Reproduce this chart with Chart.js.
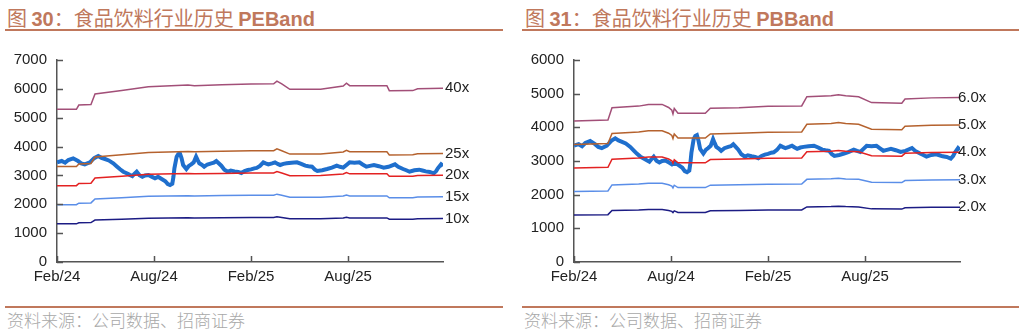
<!DOCTYPE html>
<html>
<head>
<meta charset="utf-8">
<script src="https://cdn.jsdelivr.net/npm/chart.js@4.4.1/dist/chart.umd.min.js"></script>
<style>
  body { margin: 0; background: #fff; width: 1025px; height: 332px; position: relative; overflow: hidden; }
  .title { position: absolute; top: 3px; font-family: "Noto Sans CJK SC", sans-serif; font-size: 20px; color: #C0785C; white-space: nowrap; }
  .title b { font-family: "Liberation Sans", Arial, sans-serif; font-weight: bold; }
  .rule { position: absolute; height: 2px; background: #C0785C; }
  .source { position: absolute; top: 307px; font-family: "Noto Sans CJK SC", serif; font-size: 17px; color: #A8A8A8; white-space: nowrap; font-weight: 300; }
  canvas { position: absolute; top: 0; }
</style>
</head>
<body>
<div class="title" style="left:7px">图 <b>30</b>：食品饮料行业历史 <b>PEBand</b></div>
<div class="rule" style="left:5px; width:498px; top:29px"></div>
<canvas id="pe-chart" width="512" height="300" style="left:0"></canvas>
<div class="rule" style="left:5px; width:498px; top:306px"></div>
<div class="source" style="left:7px">资料来源：公司数据、招商证券</div>

<div class="title" style="left:525px">图 <b>31</b>：食品饮料行业历史 <b>PBBand</b></div>
<div class="rule" style="left:522px; width:497px; top:29px"></div>
<canvas id="pb-chart" width="513" height="300" style="left:512px"></canvas>
<div class="rule" style="left:522px; width:497px; top:306px"></div>
<div class="source" style="left:524px">资料来源：公司数据、招商证券</div>

<script>
// x 轴: 以 2024年2月 为 0 的月份
const tickMonths = [0, 6, 12, 18];
const tickLabels = ['Feb/24', 'Aug/24', 'Feb/25', 'Aug/25'];
const lastMonth = 23.87;

// 行业指数 (两张图共用)
const indexMonths = [0, 0.29, 0.5, 0.7, 1.0, 1.3, 1.5, 1.72, 2.03, 2.3, 2.55, 2.75, 2.97, 3.2, 3.48, 3.7, 3.9, 4.1, 4.31, 4.5,
  4.66, 4.8, 4.93, 5.1, 5.28, 5.45, 5.65, 5.85, 6.06, 6.25, 6.47, 6.7, 6.85, 6.99, 7.13, 7.2, 7.26, 7.4, 7.5, 7.6,
  7.7, 7.8, 8.0, 8.15, 8.3, 8.45, 8.6, 8.7, 8.8, 8.95, 9.1, 9.3, 9.54, 9.7, 9.85, 10.0, 10.16, 10.35, 10.57, 10.75,
  10.98, 11.2, 11.4, 11.6, 11.8, 12.0, 12.2, 12.35, 12.55, 12.76, 12.9, 13.07, 13.3, 13.48, 13.65, 13.8, 14.0, 14.2, 14.5, 14.84,
  15.1, 15.35, 15.55, 15.77, 15.95, 16.1, 16.4, 16.7, 17.0, 17.3, 17.5, 17.7, 17.9, 18.1, 18.4, 18.7, 18.9, 19.13, 19.35, 19.6,
  19.9, 20.2, 20.5, 20.9, 21.1, 21.4, 21.6, 21.8, 22.1, 22.4, 22.6, 22.8, 23.05, 23.3, 23.45, 23.55, 23.75, 23.87];
const indexValues = [3454, 3500, 3440, 3534, 3592, 3500, 3420, 3385, 3454, 3600, 3673, 3610, 3569, 3520, 3419, 3310, 3212, 3130, 3073, 3020,
  2980, 3060, 3129, 3010, 2956, 3000, 3015, 2960, 2900, 2950, 2876, 2800, 2700, 2668, 2714, 2950, 3246, 3650, 3740, 3765,
  3600, 3361, 3222, 3330, 3385, 3450, 3650, 3530, 3419, 3370, 3304, 3380, 3419, 3440, 3500, 3420, 3338, 3200, 3129, 3170,
  3140, 3120, 3084, 3150, 3188, 3210, 3246, 3260, 3330, 3454, 3420, 3385, 3420, 3454, 3400, 3361, 3400, 3419, 3440, 3454,
  3400, 3338, 3320, 3304, 3200, 3153, 3180, 3222, 3270, 3338, 3300, 3269, 3360, 3454, 3440, 3454, 3380, 3304, 3330, 3361,
  3320, 3269, 3300, 3385, 3300, 3222, 3180, 3129, 3180, 3200, 3170, 3140, 3120, 3073, 3150, 3246, 3385, 3330];

// PE Band
const peBandMonths = [0, 1.2, 1.35, 2.1, 2.35, 4.0, 5.65, 8.1, 8.5, 10.2, 12.0, 13.4, 13.6, 13.9, 14.4, 16.3, 17.7, 17.9, 18.1, 20.4, 20.55, 22.0, 22.3, 23.87];
const pe40 = [5290, 5290, 5440, 5460, 5820, 5940, 6075, 6133, 6110, 6140, 6168, 6175, 6270, 6170, 5983, 5990, 6100, 6196, 6110, 6110, 5937, 5940, 6000, 6020];
const pe25 = [3306, 3306, 3400, 3413, 3638, 3713, 3797, 3833, 3819, 3838, 3855, 3859, 3919, 3856, 3739, 3744, 3813, 3873, 3819, 3819, 3711, 3713, 3750, 3763];
const pe20 = [2645, 2645, 2720, 2730, 2910, 2970, 3038, 3067, 3055, 3070, 3084, 3088, 3135, 3085, 2992, 2995, 3050, 3098, 3055, 3055, 2969, 2970, 3000, 3010];
const pe15 = [1984, 1984, 2040, 2048, 2183, 2228, 2278, 2300, 2291, 2303, 2313, 2316, 2351, 2314, 2244, 2246, 2288, 2324, 2291, 2291, 2226, 2228, 2250, 2258];
const pe10 = [1323, 1323, 1360, 1365, 1455, 1485, 1519, 1533, 1528, 1535, 1542, 1544, 1568, 1543, 1496, 1498, 1525, 1549, 1528, 1528, 1484, 1485, 1500, 1505];

// PB Band
const pbBandMonths = [0, 2.1, 2.35, 4.0, 4.6, 5.45, 5.85, 6.05, 6.12, 6.2, 6.43, 8.12, 8.43, 10.2, 12.0, 14.08, 14.4, 15.9, 16.35, 16.8, 17.6, 18.4, 20.27, 20.47, 22.1, 23.87];
const pb60 = [4190, 4220, 4580, 4630, 4680, 4680, 4590, 4510, 4400, 4560, 4420, 4420, 4565, 4585, 4625, 4635, 4910, 4940, 4970, 4935, 4910, 4735, 4715, 4840, 4875, 4885];
const pb50 = [3492, 3517, 3817, 3858, 3900, 3900, 3825, 3758, 3667, 3800, 3683, 3683, 3804, 3821, 3854, 3863, 4092, 4117, 4142, 4113, 4092, 3946, 3929, 4033, 4063, 4071];
const pb40 = [2793, 2813, 3053, 3087, 3120, 3120, 3060, 3007, 2933, 3040, 2947, 2947, 3043, 3057, 3083, 3090, 3273, 3293, 3313, 3290, 3273, 3157, 3143, 3227, 3250, 3257];
const pb30 = [2095, 2110, 2290, 2315, 2340, 2340, 2295, 2255, 2200, 2280, 2210, 2210, 2283, 2293, 2313, 2318, 2455, 2470, 2485, 2468, 2455, 2368, 2358, 2420, 2438, 2443];
const pb20 = [1397, 1407, 1527, 1543, 1560, 1560, 1530, 1503, 1467, 1520, 1473, 1473, 1522, 1528, 1542, 1545, 1637, 1647, 1657, 1645, 1637, 1578, 1572, 1613, 1625, 1628];

const colTop = '#A24F78';
const colSecond = '#B5622E';
const colMid = '#E32222';
const colLow = '#5A8EE8';
const colBottom = '#1C1C84';
const colIndex = '#1F6FCD';

const fontFamily = '"Liberation Sans", Arial, sans-serif';

function points(xs, ys) {
  return xs.map((x, i) => ({ x: x, y: ys[i] }));
}

function bandSet(label, xs, ys, color) {
  return {
    label: label, endLabel: label, data: points(xs, ys),
    borderColor: color, borderWidth: 1.5, pointRadius: 0, tension: 0
  };
}

// 线末端的倍数标签
const endLabelPlugin = {
  id: 'endLabels',
  afterDatasetsDraw(chart, args, opts) {
    const ctx = chart.ctx;
    ctx.save();
    ctx.font = '15px ' + fontFamily;
    ctx.fillStyle = '#222';
    ctx.textBaseline = 'middle';
    chart.data.datasets.forEach((ds, i) => {
      if (!ds.endLabel) return;
      const pts = chart.getDatasetMeta(i).data;
      const last = pts[pts.length - 1];
      ctx.fillText(ds.endLabel, chart.chartArea.right + opts.offset, last.y);
    });
    ctx.restore();
  }
};

// 向内的刻度线
const innerTickPlugin = {
  id: 'innerTicks',
  afterDraw(chart) {
    const ctx = chart.ctx;
    const xs = chart.scales.x, ys = chart.scales.y;
    ctx.save();
    ctx.strokeStyle = '#555';
    ctx.lineWidth = 1.5;
    ctx.beginPath();
    xs.ticks.forEach(t => {
      const px = Math.round(xs.getPixelForValue(t.value)) + 0.5;
      ctx.moveTo(px, ys.bottom);
      ctx.lineTo(px, ys.bottom - 6);
    });
    ys.ticks.forEach(t => {
      const py = Math.round(ys.getPixelForValue(t.value)) + 0.5;
      ctx.moveTo(xs.left, py);
      ctx.lineTo(xs.left + 6, py);
    });
    ctx.stroke();
    ctx.restore();
  }
};

function makeChart(id, bands, yMax, yWidth, rightPad, labelOffset) {
  const ctx = document.getElementById(id).getContext('2d');
  const datasets = bands.slice();
  datasets.push({
    label: 'index', data: points(indexMonths, indexValues),
    borderColor: colIndex, borderWidth: 4, pointRadius: 0, tension: 0
  });
  return new Chart(ctx, {
    type: 'line',
    data: { datasets: datasets },
    options: {
      responsive: false,
      animation: false,
      layout: { padding: { top: 60, right: rightPad, left: 0, bottom: 0 } },
      plugins: { legend: { display: false }, tooltip: { enabled: false }, endLabels: { offset: labelOffset } },
      scales: {
        x: {
          type: 'linear', min: 0, max: lastMonth,
          afterBuildTicks: s => { s.ticks = tickMonths.map(v => ({ value: v })); },
          afterFit: s => { s.height = 38; },
          ticks: {
            autoSkip: false, maxRotation: 0, padding: 6, color: '#222',
            font: { family: fontFamily, size: 15 },
            callback: v => tickLabels[tickMonths.indexOf(v)]
          },
          grid: { drawOnChartArea: false, drawTicks: false },
          border: { color: '#555', width: 1.5 }
        },
        y: {
          min: 0, max: yMax,
          afterFit: s => { s.width = yWidth; },
          ticks: { stepSize: 1000, padding: 10, color: '#222', font: { family: fontFamily, size: 15 }, callback: v => String(v) },
          grid: { drawOnChartArea: false, drawTicks: false },
          border: { color: '#555', width: 1.5 }
        }
      }
    },
    plugins: [endLabelPlugin, innerTickPlugin]
  });
}

makeChart('pe-chart', [
  bandSet('40x', peBandMonths, pe40, colTop),
  bandSet('25x', peBandMonths, pe25, colSecond),
  bandSet('20x', peBandMonths, pe20, colMid),
  bandSet('15x', peBandMonths, pe15, colLow),
  bandSet('10x', peBandMonths, pe10, colBottom)
], 7000, 57, 69, 2);

makeChart('pb-chart', [
  bandSet('6.0x', pbBandMonths, pb60, colTop),
  bandSet('5.0x', pbBandMonths, pb50, colSecond),
  bandSet('4.0x', pbBandMonths, pb40, colMid),
  bandSet('3.0x', pbBandMonths, pb30, colLow),
  bandSet('2.0x', pbBandMonths, pb20, colBottom)
], 6000, 62, 65, -2);
</script>
</body>
</html>
